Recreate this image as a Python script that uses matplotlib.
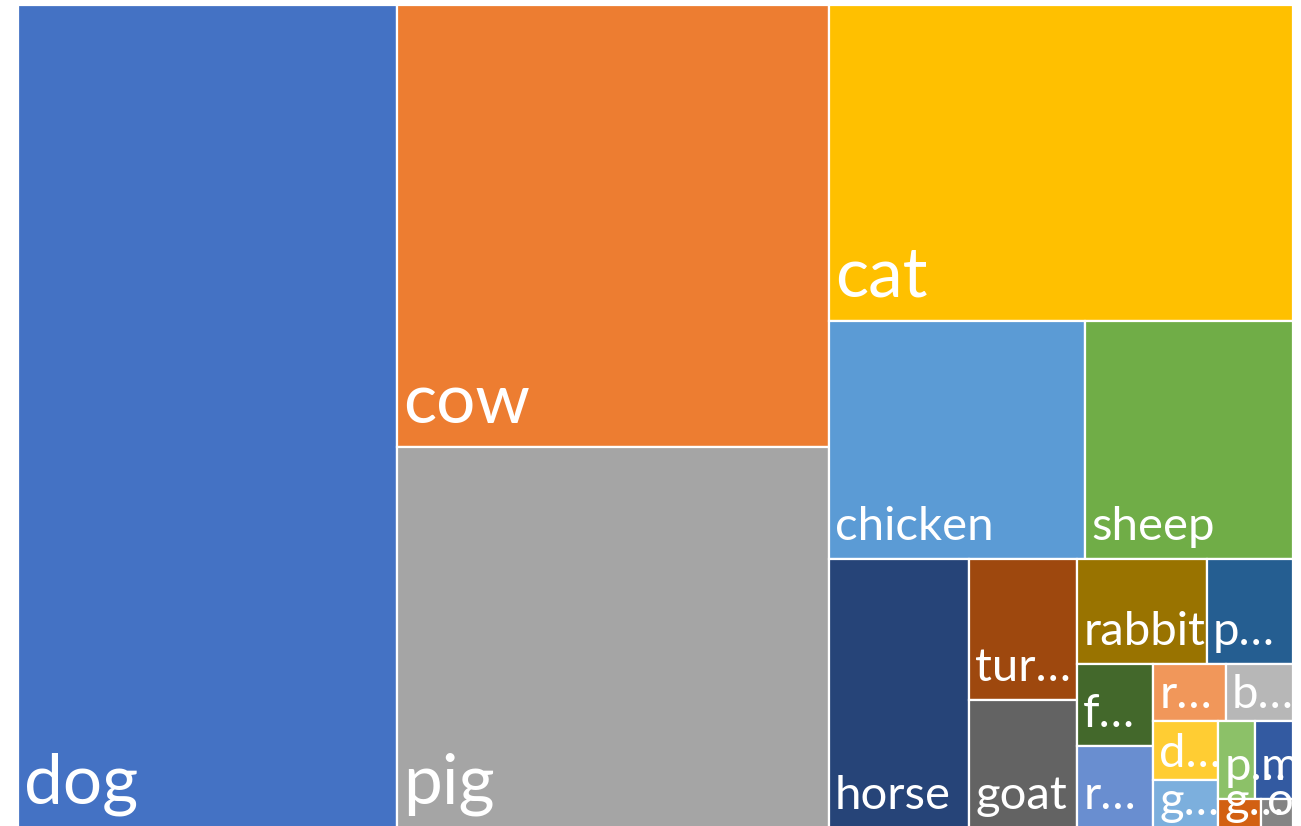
import matplotlib
matplotlib.use("Agg")
import matplotlib.pyplot as plt
from matplotlib.patches import Rectangle

plt.rcParams['font.family'] = ['Lato', 'DejaVu Sans']

# rotulos como aparecem no grafico (os pequenos sao truncados)
labels = ['dog', 'cow', 'pig', 'cat', 'chicken', 'sheep', 'horse', 'tur…', 'goat',
          'rabbit', 'p…', 'f…', 'r…', 'r…', 'b…', 'd…', 'g…', 'p…', 'm…', 'g…', 'o…']

values = [297.3, 182.0, 156.8, 139.6, 58.0, 47.1, 36.0, 14.5, 13.2,
          13.0, 8.6, 6.0, 5.9, 4.0, 3.7, 3.6, 3.0, 2.7, 2.8, 1.2, 0.9]

colors = ['#4472C4', '#ED7D31', '#A5A5A5', '#FFC000', '#5B9BD5', '#70AD47', '#264478',
          '#9E480E', '#636363', '#997300', '#255E91', '#43682B', '#698ED0', '#F1975A',
          '#B7B7B7', '#FFCD33', '#7CAFDD', '#8CC168', '#335AA1', '#D26012', '#848484']

# quantos itens entram em cada faixa do treemap
faixas = [1, 2, 1, 2, 1, 2, 2, 2, 2, 2, 2, 1, 1]

W, H = 1275.0, 823.0


def layout(values, faixas, W, H):
    escala = W * H / sum(values)
    x0, y0, w, h = 0.0, 0.0, W, H
    rects = []
    i = 0
    for n in faixas:
        areas = [v * escala for v in values[i:i + n]]
        s = sum(areas)
        if w >= h:
            # coluna na esquerda
            largura = s / h
            y = y0
            for a in areas:
                altura = a / largura
                rects.append((x0, y, largura, altura))
                y += altura
            x0 += largura
            w -= largura
        else:
            # linha no topo
            altura = s / w
            x = x0
            for a in areas:
                largura = a / altura
                rects.append((x, y0, largura, altura))
                x += largura
            y0 += altura
            h -= altura
        i += n
    return rects


fig = plt.figure(figsize=(13.01, 8.26), dpi=100)
fig.patch.set_facecolor('white')
ax = fig.add_axes([18 / 1301, (826 - 5 - H) / 826, W / 1301, H / 826])
ax.set_xlim(0, W)
ax.set_ylim(H, 0)
ax.axis('off')

rects = layout(values, faixas, W, H)

for k, (x, y, w, h) in enumerate(rects):
    ax.add_patch(Rectangle((x, y), w, h, facecolor=colors[k], edgecolor='white', linewidth=1.6))

for k, (x, y, w, h) in enumerate(rects):
    if k < 4:
        tamanho, desloc = 50, 24
    elif h > 70:
        tamanho, desloc = 34, 19
    else:
        tamanho, desloc = 34, 13
    ax.text(x + 6, y + h - desloc, labels[k], color='white', fontsize=tamanho,
            ha='left', va='baseline', clip_on=True)

plt.savefig('out.png', dpi=100)
plt.close()
